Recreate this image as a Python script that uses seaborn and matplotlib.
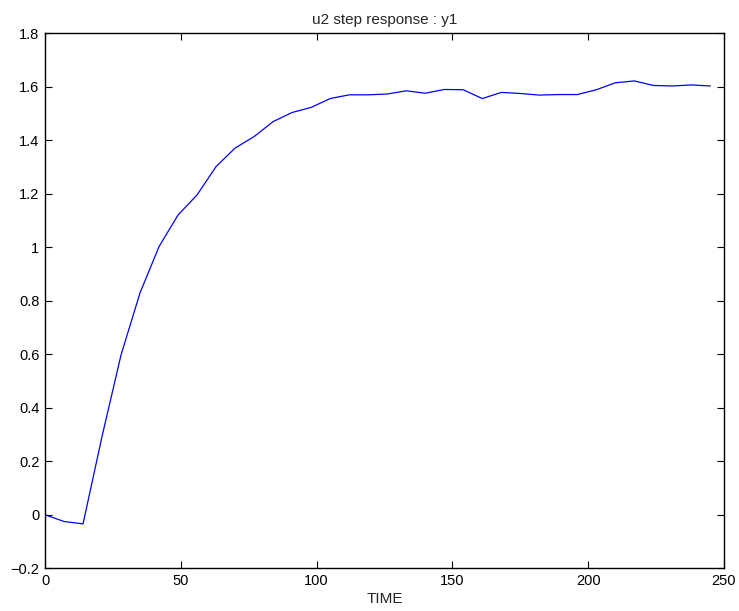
import pandas as pd
import matplotlib
matplotlib.use("Agg")
import matplotlib.pyplot as plt
import seaborn as sns

# step response samples, dt = 7
time = [0, 7, 14, 21, 28, 35, 42, 49, 56, 63, 70, 77, 84, 91, 98, 105, 112, 119,
        126, 133, 140, 147, 154, 161, 168, 175, 182, 189, 196, 203, 210, 217, 224,
        231, 238, 245]
y1 = [0.0, -0.025, -0.034, 0.293, 0.598, 0.83, 1.003, 1.121, 1.196, 1.302, 1.371,
      1.414, 1.470, 1.504, 1.523, 1.556, 1.570, 1.570, 1.573, 1.585, 1.576, 1.590,
      1.589, 1.556, 1.579, 1.575, 1.569, 1.571, 1.571, 1.589, 1.615, 1.622, 1.605,
      1.603, 1.607, 1.603]
xticks = [0, 50, 100, 150, 200, 250]
yticks = [-0.2, 0, 0.2, 0.4, 0.6, 0.8, 1, 1.2, 1.4, 1.6, 1.8]
ytick_labels = ['\u22120.2', '0', '0.2', '0.4', '0.6', '0.8', '1', '1.2', '1.4', '1.6', '1.8']

df = pd.DataFrame({'TIME': time, 'y1': y1})

sns.set_theme(style="ticks")
plt.rcParams['font.family'] = ['Liberation Sans', 'DejaVu Sans']

fig = plt.figure(figsize=(7.39, 6.11), dpi=100)
ax = fig.add_axes([0.0609, 0.0699, 0.9188, 0.8756])

sns.lineplot(data=df, x='TIME', y='y1', color='#0000ff', linewidth=0.9, ax=ax)

ax.set_xlim(0, 250)
ax.set_ylim(-0.2, 1.8)
ax.set_xticks(xticks)
ax.set_xticklabels([str(t) for t in xticks])
ax.set_yticks(yticks)
ax.set_yticklabels(ytick_labels)
ax.tick_params(direction='in', top=True, right=True, length=5, width=0.8,
               labelsize=10.5, colors='black', pad=4)
for s in ax.spines.values():
    s.set_linewidth(1.0)
    s.set_color('black')

ax.set_title('u2 step response : y1', fontsize=11, pad=7)
ax.set_xlabel('TIME', fontsize=11, labelpad=3)
ax.set_ylabel('')

fig.savefig('out.png', dpi=100)
